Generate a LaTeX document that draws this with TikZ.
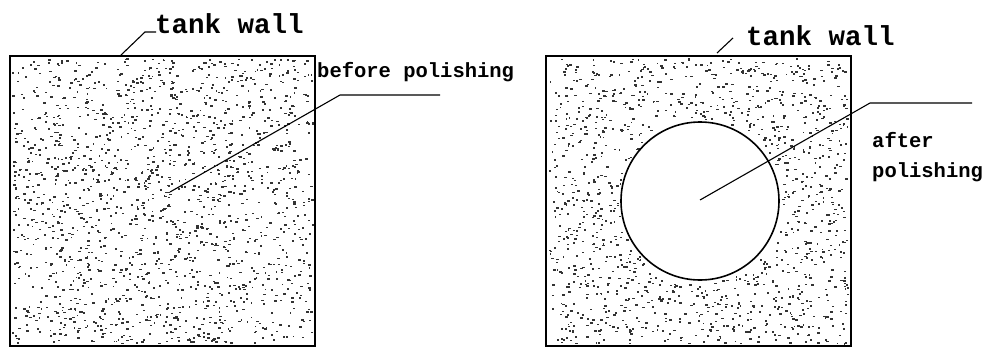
\documentclass[tikz,border=0pt]{standalone}
\usepackage{fontspec}
\newfontfamily\monof{Liberation Mono}
\begin{document}
\begin{tikzpicture}[x=1pt,y=-1pt,
  wall/.style={draw=black,line width=1.8pt,minimum width=305pt,minimum height=290pt,inner sep=0pt},
  leader/.style={draw=black,line width=1.1pt},
  bigtxt/.style={font=\monof\bfseries\fontsize{27.5}{30}\selectfont,inner sep=0pt,anchor=base west},
  smalltxt/.style={font=\monof\bfseries\fontsize{20.5}{22}\selectfont,inner sep=0pt,anchor=base west},
  speck/.style={fill=black!80}]
\useasboundingbox (0,0) rectangle (989,349);
\pgfmathsetseed{7}
% speckles left
\foreach \i in {1,...,1700}{
  \pgfmathsetmacro{\px}{12+300*rnd}
  \pgfmathsetmacro{\py}{58+285*rnd}
  \pgfmathsetmacro{\ww}{1.5+1.4*rnd}
  \fill[speck] (\px,\py) rectangle ++(\ww,1.6);
}
% speckles right
\foreach \i in {1,...,1700}{
  \pgfmathsetmacro{\px}{549+298*rnd}
  \pgfmathsetmacro{\py}{58+285*rnd}
  \pgfmathsetmacro{\ww}{1.5+1.4*rnd}
  \pgfmathsetmacro{\dd}{veclen(\px-700,\py-201)}
  \ifdim\dd pt>82pt \fill[speck] (\px,\py) rectangle ++(\ww,1.6);\fi
}
\node[wall] (sqL) at (162.5,201) {};
\node[wall] (sqR) at (698.5,201) {};
\node[circle,draw=black,line width=1.6pt,minimum size=158pt,inner sep=0pt,fill=white] (hole) at (700,201) {};

\node[bigtxt] (twL) at (155,33) {tank wall};
\node[bigtxt] (twR) at (746,45) {tank wall};
\node[smalltxt] (bp) at (317,77) {before polishing};
\node[smalltxt] (af) at (872,147) {after};
\node[smalltxt] (ap) at (872,177) {polishing};

\coordinate (lwA) at (120,56);
\coordinate (lwB) at (145,32);
\coordinate (lwC) at (156,32);
\draw[leader] (lwA) -- (lwB) -- (lwC);
\coordinate (rwA) at (717,53);
\coordinate (rwB) at (733,38);
\draw[leader] (rwA) -- (rwB);

\coordinate (bpA) at (170,192);
\coordinate (bpB) at (340,95);
\coordinate (bpC) at (440,95);
\draw[leader] (bpA) -- (bpB) -- (bpC);

\coordinate (apA) at (700,200);
\coordinate (apB) at (870,103);
\coordinate (apC) at (972,103);
\draw[leader] (apA) -- (apB) -- (apC);
\end{tikzpicture}
\end{document}
